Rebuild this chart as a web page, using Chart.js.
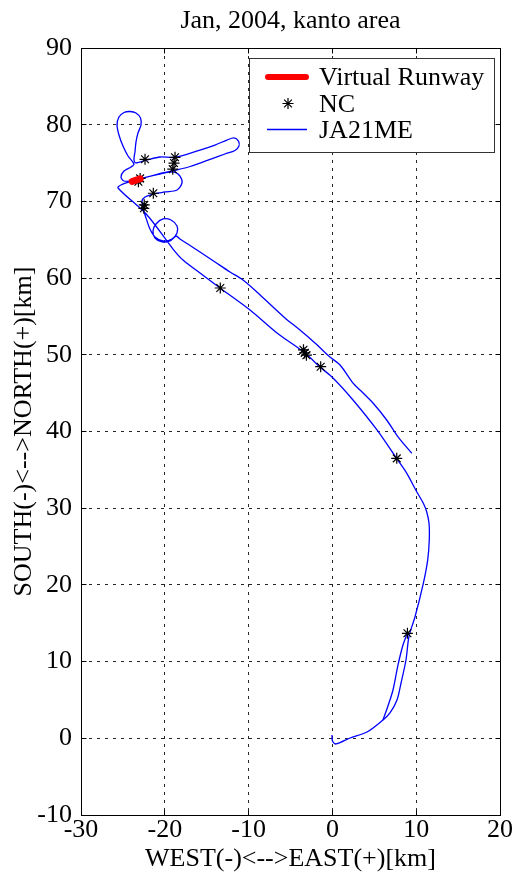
<!DOCTYPE html>
<html><head><meta charset="utf-8">
<script src="https://cdn.jsdelivr.net/npm/chart.js@4.4.1/dist/chart.umd.min.js"></script>
<style>html,body{margin:0;padding:0;background:#fff;} #wrap{width:518px;height:881px;position:relative;}</style>
</head><body>
<div id="wrap"><canvas id="c" width="518" height="881"></canvas></div>
<script>
// ---- data ----
const titleText = 'Jan, 2004, kanto area';
const xTitle = 'WEST(-)<-->EAST(+)[km]';
const yTitle = 'SOUTH(-)<-->NORTH(+)[km]';
const legendLabels = ['Virtual Runway', 'NC', 'JA21ME'];
const xTicks = [-30, -20, -10, 0, 10, 20];
const yTicks = [-10, 0, 10, 20, 30, 40, 50, 60, 70, 80, 90];

const runwayX = [-23.9, -22.95];
const runwayY = [72.6, 72.95];

const ncX = [-22.36, -18.78, -18.9, -19.05, -22.94, -23.15, -21.37, -22.45, -22.5, -13.38, -3.45, -3.3, -3.1, -1.4, 7.68, 8.95];
const ncY = [75.49, 75.75, 75.0, 74.2, 73.0, 72.57, 71.06, 69.55, 69.1, 58.71, 50.65, 50.25, 49.95, 48.45, 36.5, 13.69];

const trackX = [9.47, 7.83, 6.48, 4.84, 3.29, 2.49, 0.91, -0.29, -2.08, -3.87, -5.66, -7.09, -8.88, -10.67, -12.22, -14.01, -15.80, -16.99, -18.19, -18.66,
  -19.38, -20.33, -21.17, -21.41, -21.05, -20.21, -19.26, -18.54, -18.54, -19.14, -20.21, -21.17, -21.77, -22.24, -22.60, -22.72, -22.36, -21.41, -19.98, -18.54,
  -17.95, -18.19, -18.90, -20.57, -22.60, -23.91, -24.87, -25.23, -24.87, -24.03, -23.68, -24.39, -24.99, -25.47, -25.70, -25.47, -24.87, -24.15, -23.44, -22.90,
  -22.84, -23.20, -23.44, -23.56, -23.68, -23.44, -22.12, -20.57, -18.78, -15.80, -14.01, -12.58, -11.74, -11.21, -11.15, -11.62, -12.82, -14.25, -16.99, -18.90,
  -20.81, -22.60, -24.03, -25.23, -25.58, -22.12, -19.02, -17.83, -15.80, -13.41, -9.83, -6.61, -3.27, -1.48, 0.07, 2.46, 5.32, 7.71, 8.88, 10.06,
  10.85, 11.25, 11.53, 11.56, 11.37, 10.85, 9.86, 9.14, 8.78, 8.19, 7.71, 6.87, 6.04, 4.13, 2.10, 0.43, 0.01, -0.05];
const trackY = [37.16, 39.30, 41.50, 43.72, 45.41, 46.28, 48.67, 49.71, 51.54, 53.23, 54.80, 56.23, 58.06, 59.75, 60.80, 62.10, 63.40, 64.25, 65.10, 65.49,
  64.84, 64.71, 65.23, 66.14, 67.05, 67.71, 67.57, 66.79, 65.88, 65.10, 64.84, 65.36, 66.40, 67.84, 69.14, 70.05, 70.57, 70.96, 71.23, 71.49,
  72.40, 73.31, 73.83, 73.57, 73.05, 72.66, 72.66, 73.18, 73.96, 74.49, 74.88, 75.92, 77.22, 78.66, 79.96, 81.00, 81.59, 81.72, 81.53, 80.87,
  79.96, 78.92, 77.74, 76.44, 75.40, 75.01, 75.40, 75.79, 75.75, 76.70, 77.35, 78.00, 78.27, 77.87, 77.22, 76.64, 76.18, 75.62, 74.55, 74.03,
  73.57, 73.05, 72.59, 72.14, 71.75, 68.23, 63.79, 62.36, 60.67, 58.71, 55.84, 52.84, 50.23, 48.41, 46.98, 44.11, 40.20, 36.41, 34.55, 32.15,
  30.64, 29.54, 28.03, 25.85, 23.24, 20.21, 15.85, 13.30, 10.21, 7.21, 4.99, 3.30, 2.39, 0.82, 0.04, -0.74, -0.35, 0.43];

const track2X = [6.04, 6.63, 7.23, 7.83, 8.42, 8.90];
const track2Y = [2.39, 4.21, 6.30, 9.56, 12.16, 13.60];

// ---- helpers ----
const pts = (xs, ys) => xs.map((x, i) => ({x: x, y: ys[i]}));
const FONT = '"Liberation Serif", "Times New Roman", serif';
Chart.defaults.font.family = FONT;
Chart.defaults.color = '#000';

function alignPx(p) { return Math.round(p - 0.5) + 0.5; }

function drawStar(ctx, x, y, r) {
  ctx.beginPath();
  for (let k = 0; k < 4; k++) {
    const a = k * Math.PI / 4;
    ctx.moveTo(x - Math.cos(a) * r, y - Math.sin(a) * r);
    ctx.lineTo(x + Math.cos(a) * r, y + Math.sin(a) * r);
  }
  ctx.stroke();
}

const framePlugin = {
  id: 'frame',
  afterDraw(chart) {
    const {ctx, chartArea: a, scales} = chart;
    const xs = scales.x, ys = scales.y;
    const L = alignPx(a.left), R = alignPx(a.right), T = alignPx(a.top), B = alignPx(a.bottom);
    ctx.save();
    ctx.setLineDash([]);
    ctx.strokeStyle = '#000';
    ctx.lineWidth = 1;
    ctx.strokeRect(L, T, R - L, B - T);
    const tl = 5;
    ctx.beginPath();
    xTicks.forEach(v => {
      const p = alignPx(xs.getPixelForValue(v));
      ctx.moveTo(p, B); ctx.lineTo(p, B - tl);
      ctx.moveTo(p, T); ctx.lineTo(p, T + tl);
    });
    yTicks.forEach(v => {
      const p = alignPx(ys.getPixelForValue(v));
      ctx.moveTo(L, p); ctx.lineTo(L + tl, p);
      ctx.moveTo(R, p); ctx.lineTo(R - tl, p);
    });
    ctx.stroke();

    // legend box
    const lx = 249.5, ly = 58.5, lw = 245, lh = 94;
    ctx.fillStyle = '#fff';
    ctx.fillRect(lx, ly, lw, lh);
    ctx.strokeStyle = '#333';
    ctx.strokeRect(lx, ly, lw, lh);
    ctx.lineCap = 'round';
    ctx.strokeStyle = '#ff0000';
    ctx.lineWidth = 6;
    ctx.beginPath(); ctx.moveTo(268, 77); ctx.lineTo(306, 77); ctx.stroke();
    ctx.lineCap = 'butt';
    ctx.strokeStyle = '#000';
    ctx.lineWidth = 1.2;
    drawStar(ctx, 288, 103.5, 5.5);
    ctx.strokeStyle = '#0000ff';
    ctx.lineWidth = 1.3;
    ctx.beginPath(); ctx.moveTo(267, 129.5); ctx.lineTo(307, 129.5); ctx.stroke();
    ctx.fillStyle = '#000';
    ctx.font = '26px ' + FONT;
    ctx.textBaseline = 'alphabetic';
    ctx.textAlign = 'left';
    ctx.fillText(legendLabels[0], 319, 85);
    ctx.fillText(legendLabels[1], 319, 111.5);
    ctx.fillText(legendLabels[2], 319, 138);
    ctx.restore();
  }
};

new Chart(document.getElementById('c'), {
  type: 'scatter',
  data: {
    datasets: [
      {label: legendLabels[0], data: pts(runwayX, runwayY), showLine: true, borderColor: '#ff0000', backgroundColor: '#ff0000',
       borderWidth: 7, borderCapStyle: 'round', pointRadius: 0, tension: 0},
      {label: legendLabels[1], data: pts(ncX, ncY), showLine: false, pointStyle: 'star', pointRadius: 5.5,
       borderColor: '#000', backgroundColor: '#000', pointBorderWidth: 1.2},
      {label: legendLabels[2], data: pts(trackX, trackY), showLine: true, borderColor: '#0000ff', backgroundColor: '#0000ff',
       borderWidth: 1.3, pointRadius: 0, tension: 0.3},
      {label: legendLabels[2] + ' (2)', data: pts(track2X, track2Y), showLine: true, borderColor: '#0000ff', backgroundColor: '#0000ff',
       borderWidth: 1.3, pointRadius: 0, tension: 0.3}
    ]
  },
  options: {
    responsive: false,
    animation: false,
    devicePixelRatio: 1,
    events: [],
    layout: {padding: {left: 0, right: 18, top: 0, bottom: 0}},
    plugins: {
      legend: {display: false},
      tooltip: {enabled: false},
      title: {display: true, text: titleText, fullSize: false, color: '#000',
              font: {size: 26, weight: 'normal', family: FONT}, padding: {top: 5.5, bottom: 11.3}}
    },
    scales: {
      x: {
        type: 'linear', min: xTicks[0], max: xTicks[xTicks.length - 1],
        afterFit(s) { s.height = 66; },
        afterBuildTicks(s) { s.ticks = xTicks.map(v => ({value: v})); },
        ticks: {stepSize: 10, autoSkip: false, maxRotation: 0, padding: 0, color: '#000', font: {size: 26, family: FONT}},
        grid: {color: 'rgba(0,0,0,0.85)', lineWidth: 1, drawTicks: false},
        border: {display: false, dash: [3, 5]},
        title: {display: true, text: xTitle, color: '#000', font: {size: 26, family: FONT}, padding: {top: 0, bottom: 6}}
      },
      y: {
        type: 'linear', min: yTicks[0], max: yTicks[yTicks.length - 1],
        afterFit(s) { s.width = 81; },
        afterBuildTicks(s) { s.ticks = yTicks.map(v => ({value: v})); },
        ticks: {stepSize: 10, autoSkip: false, padding: 9, color: '#000', font: {size: 26, family: FONT}},
        grid: {color: 'rgba(0,0,0,0.85)', lineWidth: 1, drawTicks: false},
        border: {display: false, dash: [3, 5]},
        title: {display: true, text: yTitle, color: '#000', font: {size: 26, family: FONT}, padding: {top: 8.5, bottom: 0}}
      }
    }
  },
  plugins: [framePlugin]
});
</script>
</body></html>
